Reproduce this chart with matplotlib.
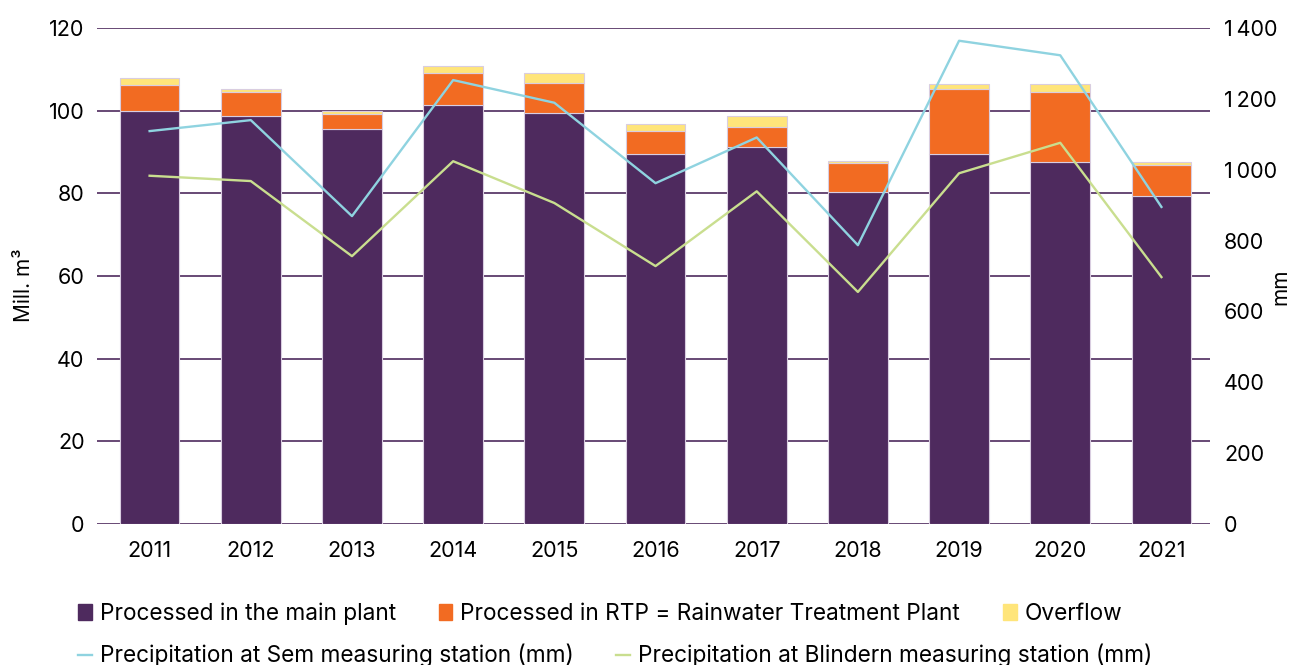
import matplotlib
matplotlib.use('Agg')
import matplotlib.pyplot as plt
from matplotlib.patches import Patch
from matplotlib.lines import Line2D

plt.rcParams['font.family'] = ['Inter', 'DejaVu Sans']

years = ['2011', '2012', '2013', '2014', '2015', '2016', '2017', '2018', '2019', '2020', '2021']
main_plant = [100.0, 98.6, 95.6, 101.4, 99.4, 89.6, 91.1, 80.3, 89.4, 87.7, 79.4]
rtp = [6.2, 5.8, 3.6, 7.6, 7.2, 5.6, 5.0, 7.1, 15.9, 16.8, 7.5]
overflow = [1.7, 0.8, 0.6, 1.8, 2.6, 1.6, 2.6, 0.4, 1.2, 2.0, 0.8]
sem = [1109, 1140, 869, 1253, 1189, 962, 1091, 787, 1364, 1323, 895]
blindern = [983, 968, 756, 1024, 906, 728, 939, 655, 990, 1076, 697]

purple = '#4e2a5e'
orange = '#f26b22'
yellow = '#ffe57a'
blue = '#8fd3e0'
green = '#c9de8f'

fig = plt.figure(figsize=(12.9, 6.65), dpi=100)
ax = fig.add_axes([97/1290, 141/665, 1113/1290, 496/665])
x = list(range(len(years)))
w = 0.59
edge = dict(edgecolor='#d9cde0', linewidth=0.8, zorder=2)

bottom2 = [a + b for a, b in zip(main_plant, rtp)]
ax.bar(x, main_plant, w, color=purple, **edge)
ax.bar(x, rtp, w, bottom=main_plant, color=orange, **edge)
ax.bar(x, overflow, w, bottom=bottom2, color=yellow, **edge)

ax.set_xlim(-0.52, 10.48)
ax.set_ylim(0, 120)
ax.set_yticks(range(0, 121, 20))
for v in range(0, 121, 20):
    ax.axhline(v, color=purple, lw=1.2, zorder=1)
ax.set_xticks(x)
ax.set_xticklabels(years)
ax.tick_params(axis='both', length=0, labelsize=15.5, colors='black')
ax.tick_params(axis='y', pad=9)
ax.tick_params(axis='x', pad=12)
for s in ax.spines.values():
    s.set_visible(False)

ax2 = ax.twinx()
ax2.plot(x, sem, color=blue, lw=1.7, zorder=3)
ax2.plot(x, blindern, color=green, lw=1.7, zorder=3)
ax2.set_ylim(0, 1400)
ax2.set_yticks(range(0, 1401, 200))
ax2.set_yticklabels([f'{v:,}'.replace(',', '\u2009') for v in range(0, 1401, 200)])
ax2.tick_params(axis='y', length=0, labelsize=15.5, pad=10)
for s in ax2.spines.values():
    s.set_visible(False)

# axis titles placed by hand so "mm" stays inside the figure
fig.text(24/1290, 1 - 285/665, 'Mill. m³', rotation=90, ha='center', va='center', fontsize=15)
fig.text(1280/1290, 1 - 287/665, 'mm', rotation=90, ha='center', va='center', fontsize=15)

h1 = [Patch(color=purple), Patch(color=orange), Patch(color=yellow)]
l1 = ['Processed in the main plant', 'Processed in RTP = Rainwater Treatment Plant', 'Overflow']
fig.legend(h1, l1, loc='center left', bbox_to_anchor=(0.0605, 0.077), ncol=3, frameon=False,
           fontsize=16.3, handlelength=0.6, handleheight=0.75, handletextpad=0.35, columnspacing=1.9,
           borderaxespad=0, borderpad=0)
h2 = [Line2D([], [], color=blue, lw=1.7), Line2D([], [], color=green, lw=1.7)]
l2 = ['Precipitation at Sem measuring station (mm)', 'Precipitation at Blindern measuring station (mm)']
fig.legend(h2, l2, loc='center left', bbox_to_anchor=(0.0605, 0.014), ncol=2, frameon=False,
           fontsize=16.3, handlelength=0.6, handletextpad=0.35, columnspacing=1.9,
           borderaxespad=0, borderpad=0)

fig.savefig('out.png', dpi=100)
